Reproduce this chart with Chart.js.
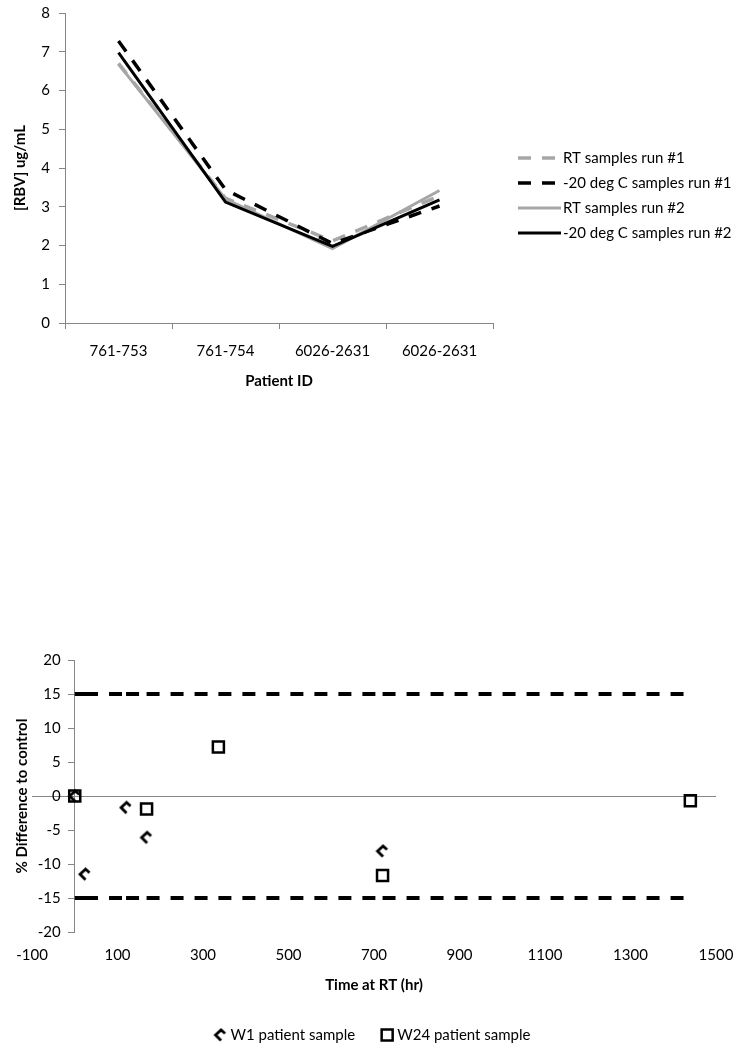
<!DOCTYPE html>
<html>
<head>
<meta charset="utf-8">
<script src="https://cdn.jsdelivr.net/npm/chart.js@4.4.0/dist/chart.umd.min.js"></script>
<style>
  body { margin: 0; background: #fff; }
  #wrap { position: relative; width: 744px; height: 1050px; }
  canvas { position: absolute; left: 0; }
  #rbvChart { top: 0; }
  #rtChart { top: 640px; }
</style>
</head>
<body>
<div id="wrap">
  <canvas id="rbvChart" width="744" height="400"></canvas>
  <canvas id="rtChart" width="744" height="410"></canvas>
</div>
<script>
// --- top chart: RBV concentration per patient ---
const patientIds = ['761-753', '761-754', '6026-2631', '6026-2631'];
const rtRun1 = [6.7, 3.22, 2.12, 3.28];
const frozenRun1 = [7.28, 3.44, 2.05, 3.02];
const rtRun2 = [6.68, 3.2, 1.92, 3.42];
const frozenRun2 = [6.98, 3.12, 1.98, 3.18];

// --- bottom chart: % difference vs time at room temperature ---
const w1Hours = [0, 24, 120, 168, 720];
const w1Diff = [0, -11.5, -1.7, -6.1, -8.1];
const w24Hours = [0, 168, 336, 720, 1440];
const w24Diff = [0, -1.9, 7.2, -11.7, -0.7];
const limitHours = [0, 24, 120, 168, 336, 720, 1440];
const upperLimit = 15;
const lowerLimit = -15;

const axisGrey = '#868686';
const lineGrey = '#a6a6a6';
const tickFont = { family: 'Lato', size: 15 };
const titleFont = { family: 'Lato', size: 15, weight: 'bold' };

// marker used for W1 (three sides of a small diamond)
function makeChevron() {
    const c = document.createElement('canvas');
    c.width = 16;
    c.height = 16;
    const g = c.getContext('2d');
    g.strokeStyle = '#000';
    g.lineWidth = 2.8;
    g.lineJoin = 'miter';
    g.beginPath();
    g.moveTo(8.5, 13.5);
    g.lineTo(3, 8);
    g.lineTo(8.5, 3);
    g.lineTo(12.5, 6.5);
    g.stroke();
    return c;
}
const chevron = makeChevron();

// legend on the right of the top chart
const sideLegend = {
    id: 'sideLegend',
    afterDraw(chart) {
        const ctx = chart.ctx;
        const x0 = chart.chartArea.right + 25;
        let y = chart.height / 2 - 42;
        ctx.save();
        ctx.font = '15px Lato';
        ctx.textBaseline = 'middle';
        ctx.fillStyle = '#000';
        chart.data.datasets.forEach(function(ds) {
            ctx.beginPath();
            ctx.strokeStyle = ds.borderColor;
            ctx.lineWidth = ds.borderWidth;
            ctx.setLineDash(ds.borderDash || []);
            ctx.moveTo(x0, y);
            ctx.lineTo(x0 + 43, y);
            ctx.stroke();
            ctx.setLineDash([]);
            ctx.fillText(ds.label, x0 + 45, y);
            y += 25;
        });
        ctx.restore();
    }
};

new Chart(document.getElementById('rbvChart'), {
    type: 'line',
    data: {
        labels: patientIds,
        datasets: [
            { label: 'RT samples run #1', data: rtRun1, borderColor: lineGrey, borderWidth: 3.5, borderDash: [13, 11], order: 3 },
            { label: '-20 deg C samples run #1', data: frozenRun1, borderColor: '#000', borderWidth: 3.5, borderDash: [13, 11], order: 2 },
            { label: 'RT samples run #2', data: rtRun2, borderColor: lineGrey, borderWidth: 3, order: 1 },
            { label: '-20 deg C samples run #2', data: frozenRun2, borderColor: '#000', borderWidth: 3, order: 0 }
        ]
    },
    options: {
        responsive: false,
        animation: false,
        layout: { padding: { top: 13, right: 251, left: 0, bottom: 0 } },
        elements: {
            point: { radius: 0 },
            line: { tension: 0, fill: false, borderCapStyle: 'butt' }
        },
        plugins: { legend: { display: false }, tooltip: { enabled: false } },
        scales: {
            x: {
                offset: true,
                grid: { display: true, drawOnChartArea: false, offset: true, tickLength: 6, color: axisGrey },
                border: { color: axisGrey },
                ticks: { font: tickFont, color: '#000', padding: 13, maxRotation: 0 },
                title: { display: true, text: 'Patient ID', font: titleFont, color: '#000', padding: { top: 0, bottom: 10 } },
                afterFit: function(s) { s.height = 77; }
            },
            y: {
                min: 0,
                max: 8,
                ticks: { stepSize: 1, font: tickFont, color: '#000', padding: 9 },
                grid: { drawOnChartArea: false, tickLength: 6, color: axisGrey },
                border: { color: axisGrey },
                title: { display: true, text: '[RBV] ug/mL', font: titleFont, color: '#000', padding: { top: 11, bottom: 0 } },
                afterFit: function(s) {
                    s.width = 65;
                    s.paddingTop = 0;
                    s.paddingBottom = 0;
                }
            }
        }
    },
    plugins: [sideLegend]
});

// limit lines: one dataset per segment so the dash restarts at every time point
const limitSets = [];
[upperLimit, lowerLimit].forEach(function(level) {
    for (let i = 0; i < limitHours.length - 1; i++) {
        limitSets.push({
            label: 'limit',
            data: [{ x: limitHours[i], y: level }, { x: limitHours[i + 1], y: level }],
            showLine: true,
            borderColor: '#000',
            borderWidth: 4,
            borderDash: [13, 11],
            borderCapStyle: 'butt',
            pointRadius: 0
        });
    }
});

const bottomExtras = {
    id: 'bottomExtras',
    afterDraw(chart) {
        const ctx = chart.ctx;
        const area = chart.chartArea;
        const ys = chart.scales.y;
        const axisX = chart.scales.x.getPixelForValue(0);

        // y tick labels, left of the axis that crosses at x = 0
        ctx.save();
        ctx.font = '15px Lato';
        ctx.fillStyle = '#000';
        ctx.textAlign = 'right';
        ctx.textBaseline = 'middle';
        ys.ticks.forEach(function(t) {
            ctx.fillText(String(t.value), axisX - 14, ys.getPixelForValue(t.value));
        });
        ctx.restore();

        // y axis title
        ctx.save();
        ctx.font = 'bold 15px Lato';
        ctx.fillStyle = '#000';
        ctx.textAlign = 'center';
        ctx.textBaseline = 'middle';
        ctx.translate(22, (area.top + area.bottom) / 2);
        ctx.rotate(-Math.PI / 2);
        ctx.fillText('% Difference to control', 0, 0);
        ctx.restore();

        // legend
        ctx.save();
        ctx.font = '15px Lato';
        ctx.fillStyle = '#000';
        ctx.textBaseline = 'middle';
        ctx.textAlign = 'left';
        const items = chart.data.datasets.filter(function(d) { return d.inLegend; });
        const markW = 14, gapText = 3, gapItem = 25;
        let total = 0;
        items.forEach(function(d, i) {
            total += markW + gapText + ctx.measureText(d.label).width + (i ? gapItem : 0);
        });
        let x = chart.width / 2 - total / 2;
        const y = 395;
        items.forEach(function(d) {
            if (d.pointStyle === 'rect') {
                ctx.strokeStyle = '#000';
                ctx.lineWidth = 2.5;
                ctx.strokeRect(x + 1.5, y - 5.5, 11, 11);
            } else {
                ctx.drawImage(chevron, x - 1, y - 8);
            }
            ctx.fillText(d.label, x + markW + gapText, y);
            x += markW + gapText + ctx.measureText(d.label).width + gapItem;
        });
        ctx.restore();
    }
};

new Chart(document.getElementById('rtChart'), {
    type: 'scatter',
    data: {
        datasets: limitSets.concat([
            {
                label: 'W1 patient sample',
                inLegend: true,
                data: w1Hours.map(function(h, i) { return { x: h, y: w1Diff[i] }; }),
                pointStyle: chevron,
                pointRadius: 6
            },
            {
                label: 'W24 patient sample',
                inLegend: true,
                data: w24Hours.map(function(h, i) { return { x: h, y: w24Diff[i] }; }),
                pointStyle: 'rect',
                pointRadius: 7.8,
                borderColor: '#000',
                borderWidth: 2.5,
                backgroundColor: 'rgba(0,0,0,0)'
            }
        ])
    },
    options: {
        responsive: false,
        animation: false,
        layout: { padding: { top: 20, left: 32, right: 28, bottom: 48 } },
        plugins: { legend: { display: false }, tooltip: { enabled: false } },
        scales: {
            x: {
                type: 'linear',
                min: -100,
                max: 1500,
                ticks: {
                    stepSize: 200, font: tickFont, color: '#000', padding: 6, maxRotation: 0,
                    callback: function(v) { return String(v); }
                },
                grid: { display: false },
                border: { display: false },
                title: { display: true, text: 'Time at RT (hr)', font: titleFont, color: '#000', padding: { top: 0, bottom: 8 } },
                afterFit: function(s) { s.height = 70; }
            },
            y: {
                position: { x: 0 },
                min: -20,
                max: 20,
                ticks: { stepSize: 5, display: false },
                grid: {
                    drawOnChartArea: true,
                    tickLength: 6,
                    tickColor: axisGrey,
                    color: function(c) { return c.tick && c.tick.value === 0 ? axisGrey : 'rgba(0,0,0,0)'; }
                },
                border: { color: axisGrey }
            }
        }
    },
    plugins: [bottomExtras]
});
</script>
</body>
</html>
